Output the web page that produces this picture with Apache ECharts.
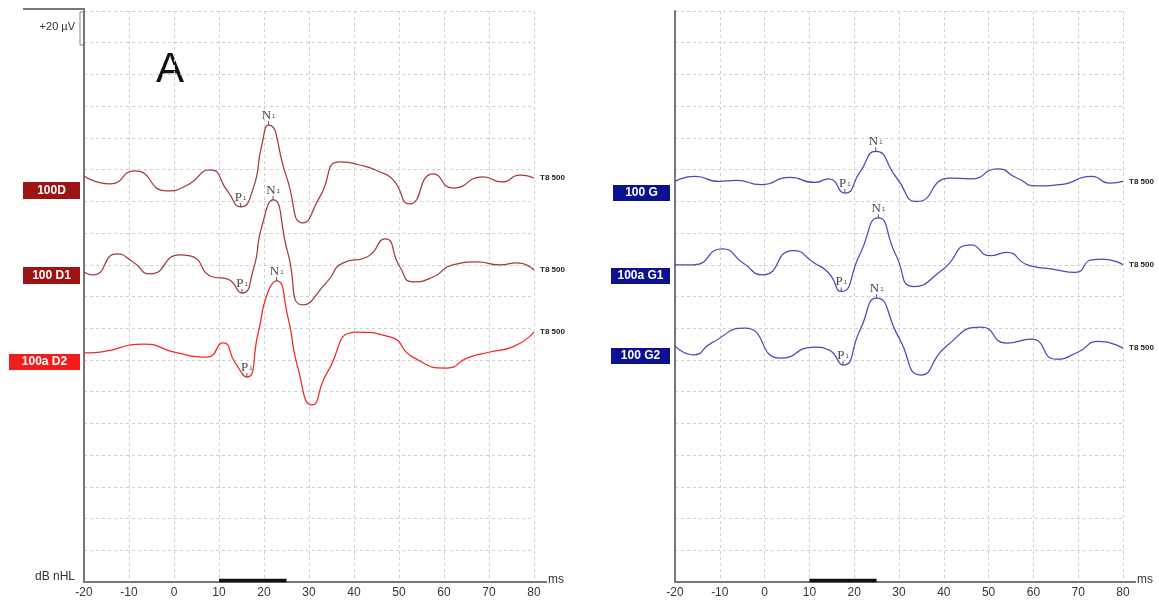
<!DOCTYPE html>
<html><head><meta charset="utf-8">
<script src="https://cdn.jsdelivr.net/npm/echarts@6/dist/echarts.min.js"></script>
<style>html,body{margin:0;padding:0;background:#fff}#c{width:1159px;height:604px}</style>
</head><body><div id="c"></div>
<script>
// ---- data (time in ms, amplitude in µV relative to each trace's baseline) ----
const xTickLabels = [-20,-10,0,10,20,30,40,50,60,70,80];
const namesLeft  = ['100D','100 D1','100a D2'];
const namesRight = ['100 G','100a G1','100 G2'];
const offsetsLeft  = [255,197,145];
const offsetsRight = [253,201,148];
const endLabel = 'T8 500';
const stimulus = [10,25];

const left1 = [[-20,1.0],[-14.2,-4.0],[-8.7,4.2],[-1.6,-8.4],[3,-4.7],[8,4.8],[12,-9.1],[14.8,-18.5],[17.5,-7.8],[19.5,20.4],[21,33.1],[25,0.4],[28.7,-28.6],[32.4,-12.2],[36.9,9.8],[41.3,7.9],[45.8,3.5],[48.7,-1.5],[52.4,-16.6],[57.6,2.3],[62,-6.6],[68.7,0.4],[72.9,-2.8],[76.9,1.6],[80,-0.3]];
const left2 = [[-20,-1.5],[-18,-3.4],[-12.7,9.8],[-9.1,4.8],[-5.3,-2.8],[1.3,9.2],[3.6,8.6],[8.7,-4.7],[11.8,-5.9],[15.1,-14.8],[17.6,-0.3],[19.5,26.9],[22,43.9],[25.3,10.5],[28.7,-22.3],[34,-7.8],[37.6,4.2],[42.9,7.9],[46.9,19.3],[50.2,1.6],[53.1,-7.8],[57.6,-4.7],[62,2.9],[67.3,4.8],[72.4,2.9],[76.2,4.2],[80,-0.3]];
const left3 = [[-20,-0.6],[-16.4,0],[-6.9,5.0],[0.7,-0.6],[7.3,-3.2],[10.9,5.7],[13.6,-6.9],[16.2,-15.8],[18.7,12.0],[20.8,37.2],[22.8,44.8],[25.3,22.1],[27.5,-9.5],[30.7,-33.4],[34,-13.2],[40.7,12.6],[48,9.5],[53.1,-3.2],[60.7,-10.1],[65.1,-3.8],[70.2,0],[75.3,3.2],[80,12.6]];
const right1 = [[-20,-0.4],[-15.5,2.7],[-10.3,-0.4],[-6.3,0.2],[-0.8,-2.5],[5.6,2.1],[11.1,-1.1],[14.3,1.1],[17.9,-7.8],[21.3,5.5],[24.8,18.5],[29.5,1.7],[34.1,-13.1],[41.3,1.7],[46,1.1],[52,7.4],[56.3,1.7],[60.7,-3.2],[65.9,-2.5],[73,2.7],[77,-1.5],[80,-0.4]];
const right2 = [[-20,-1.0],[-15.9,-1.0],[-9.5,9.1],[-4.8,0.1],[-0.4,-7.3],[6.3,8.0],[11.1,0.1],[14.3,-6.2],[17.1,-17.8],[21.2,5.2],[25.4,28.5],[29.3,5.2],[33.3,-14.7],[39.7,-4.2],[46,11.6],[50.4,4.7],[54,6.8],[58.7,-1.0],[64.3,-3.7],[69.4,-5.8],[73,2.1],[75.4,2.6],[80,-1.0]];
const right3 = [[-20,0.9],[-15.9,-4.8],[-11.9,2.6],[-4.4,12.0],[3.6,-6.9],[11.1,0.1],[14.3,-1.7],[17.5,-11.2],[21.3,10.9],[25,31.0],[30,5.9],[34.9,-17.5],[40.5,0.5],[48.4,12.7],[54,2.6],[59.5,5.1],[65.1,-7.5],[69.8,-3.3],[74.6,3.7],[80,-0.6]];
const p1Left = [14.8,15.1,16.2],  n1Left = [21,22,22.8];
const p1Right = [17.9,17.1,17.5], n1Right = [24.8,25.4,25];

// ---- styles ----
const colorsLeft = ['#a33a3e','#a33a3e','#ee2a24'];
const colorsRight = ['#4a4ab8','#4a4ab8','#4a4ab8'];
const boxLeft = ['#9c1414','#9c1414','#f21c1c'];
const boxRight = ['#0a1290','#0a1290','#0a1290'];

const gridLine = {show:true, lineStyle:{color:'#cfcfcf', type:[3,3], width:1}};
function xAxis(i){
  return {type:'value', gridIndex:i, min:-20, max:80, interval:10,
    axisLine:{show:true, onZero:false, lineStyle:{color:'#777', width:2}},
    axisTick:{show:false},
    axisLabel:{color:'#333', fontSize:12, fontFamily:'Liberation Sans, Arial', margin:5,
      formatter:v=> xTickLabels.includes(v)? String(v):''},
    splitLine:gridLine};
}
function yAxis(i){
  return {type:'value', gridIndex:i, min:0, max:360, interval:20,
    axisLine:{show:true, onZero:false, lineStyle:{color:'#777', width:2}},
    axisTick:{show:false}, axisLabel:{show:false}, splitLine:gridLine};
}
const series = [];
function addTraces(traces, offsets, colors, gi){
  traces.forEach((pts,k)=>{
    series.push({type:'line', xAxisIndex:gi, yAxisIndex:gi, smooth:0.6, symbol:'none',
      lineStyle:{color:colors[k], width:1.25}, z:3,
      data: pts.map(([t,v])=>[t, v+offsets[k]]),
      endLabel:{show:true, formatter:endLabel, fontSize:8, fontWeight:'bold', color:'#222', distance:6,
        fontFamily:'Liberation Sans Narrow, Liberation Sans, Arial'}});
  });
}
function addMarkers(traces, offsets, times, name, gi){
  const data = times.map((t,k)=>{
    const p = traces[k].find(q=>q[0]===t);
    return [t, p[1]+offsets[k]];
  });
  series.push({type:'scatter', xAxisIndex:gi, yAxisIndex:gi, symbol:'rect',
    symbolSize:[1,4], symbolOffset:[0,-2], itemStyle:{color:'#333'}, z:4, silent:true,
    label:{show:true, position:'top', distance:-1, formatter:'{a|'+name[0]+'}{b|'+name[1]+'}',
      rich:{a:{fontFamily:'Liberation Serif, DejaVu Serif, serif', fontSize:13, color:'#111', verticalAlign:'bottom'},
            b:{fontFamily:'Liberation Sans, sans-serif', fontSize:6, color:'#111', verticalAlign:'bottom', padding:[0,0,3,1]}}},
    data});
}
addTraces([left1,left2,left3], offsetsLeft, colorsLeft, 0);
addTraces([right1,right2,right3], offsetsRight, colorsRight, 1);
addMarkers([left1,left2,left3], offsetsLeft, p1Left, 'P1', 0);
addMarkers([left1,left2,left3], offsetsLeft, n1Left, 'N1', 0);
addMarkers([right1,right2,right3], offsetsRight, p1Right, 'P1', 1);
addMarkers([right1,right2,right3], offsetsRight, n1Right, 'N1', 1);
[0,1].forEach(gi=>{
  series.push({type:'line', xAxisIndex:gi, yAxisIndex:gi, symbol:'none', z:5,
    lineStyle:{color:'#111', width:3.5}, data: stimulus.map(t=>[t,0.9])});
});

function box(x,y,w,h,fill,text){
  return {type:'group', children:[
    {type:'rect', shape:{x,y,width:w,height:h}, style:{fill}},
    {type:'text', x:x+w/2, y:y+h/2, style:{text, fill:'#fff', font:'bold 12px "Liberation Sans", Arial', align:'center', verticalAlign:'middle'}}
  ]};
}
const graphic = [
  box(23,182,57,17,boxLeft[0],namesLeft[0]),
  box(23,267,57,17,boxLeft[1],namesLeft[1]),
  box(9,354,71,16,boxLeft[2],namesLeft[2]),
  box(613,185,57,16,boxRight[0],namesRight[0]),
  box(611,268,59,16,boxRight[1],namesRight[1]),
  box(611,348,59,16,boxRight[2],namesRight[2]),
  {type:'line', shape:{x1:23,y1:9,x2:85,y2:9}, style:{stroke:'#777', lineWidth:2}},
  {type:'line', shape:{x1:84,y1:8,x2:84,y2:12}, style:{stroke:'#777', lineWidth:2}},
  {type:'rect', shape:{x:80,y:12,width:4,height:33}, style:{fill:'#fff', stroke:'#888', lineWidth:1}},
  {type:'text', x:75, y:27, style:{text:'+20 µV', font:'11px "Liberation Sans", Arial', fill:'#333', align:'right', verticalAlign:'middle'}},
  {type:'text', x:170, y:70, style:{text:'A', font:'42px "Liberation Sans", Arial', fill:'#111', align:'center', verticalAlign:'middle'}},
  {type:'text', x:75, y:577, style:{text:'dB nHL', font:'12px "Liberation Sans", Arial', fill:'#333', align:'right', verticalAlign:'middle'}},
  {type:'line', shape:{x1:534,y1:582,x2:547,y2:582}, style:{stroke:'#777', lineWidth:2}},
  {type:'line', shape:{x1:1123,y1:582,x2:1136,y2:582}, style:{stroke:'#777', lineWidth:2}},
  {type:'text', x:548, y:580, style:{text:'ms', font:'12px "Liberation Sans", Arial', fill:'#333', align:'left', verticalAlign:'middle'}},
  {type:'text', x:1137, y:580, style:{text:'ms', font:'12px "Liberation Sans", Arial', fill:'#333', align:'left', verticalAlign:'middle'}}
];

const chart = echarts.init(document.getElementById('c'), null, {renderer:'canvas'});
chart.setOption({
  animation:false, backgroundColor:'#fff',
  grid:[{left:84, top:11, width:450, height:571}, {left:675, top:11, width:448, height:571}],
  xAxis:[xAxis(0), xAxis(1)], yAxis:[yAxis(0), yAxis(1)],
  series, graphic
});
</script></body></html>
